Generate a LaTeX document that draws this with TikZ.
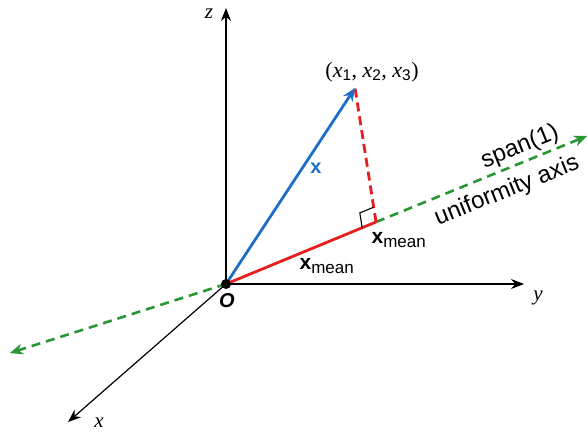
\documentclass[tikz,border=0pt]{standalone}
\usepackage{fontspec}
\setmainfont{Liberation Sans}
\newfontfamily\serifit{Liberation Serif}
\usetikzlibrary{arrows.meta,calc}
\definecolor{gblue}{RGB}{30,110,200}
\definecolor{gred}{RGB}{232,30,30}
\definecolor{ggreen}{RGB}{40,150,50}
\tikzset{
  axis/.style={line width=1.2pt, -{Stealth[length=13pt,width=10pt]}},
  vec/.style={line width=2.8pt},
  grn/.style={line width=2.6pt, draw=ggreen, dash pattern=on 9pt off 6pt, -{Stealth[length=13pt,width=11pt]}},
  lbl/.style={font=\fontsize{24}{26}\selectfont, inner sep=0pt},
  axl/.style={font=\fontsize{21}{23}\selectfont\serifit\itshape, inner sep=1pt},
}
\newcommand{\xmean}{\textbf{x}\textsubscript{\fontsize{17}{20}\selectfont mean}}
\begin{document}
\begin{tikzpicture}[x=1pt,y=-1pt]
\useasboundingbox (0,0) rectangle (588,432);
\coordinate (O) at (226,284);
\coordinate (zt) at (226,8);
\coordinate (yt) at (524,284);
\coordinate (xt) at (68,422);
\coordinate (P) at (355,88);
\coordinate (F) at (376,222);
\coordinate (gl) at (10,353);
\coordinate (gr) at (587,136);
% axes
\draw[axis] (O) -- (zt);
\draw[axis] (O) -- (yt);
\draw[axis] (O) -- (xt);
% green uniformity axis
\draw[grn] (O) -- (gl);
\draw[grn] (F) -- (gr);
% vectors
\draw[vec, draw=gred] (O) -- (F);
\draw[vec, draw=gred, dash pattern=on 9pt off 5pt] (F) -- (P);
\draw[vec, draw=gblue, -{Stealth[length=13pt,width=11pt]}] (O) -- (P);
% right angle mark
\coordinate (ra1) at ($(F)!15pt!(O)$);
\coordinate (ra2) at ($(F)!15pt!(P)$);
\coordinate (ra3) at ($(ra1)+(ra2)-(F)$);
\draw[line width=1.1pt] (ra1) -- (ra3) -- (ra2);
% origin dot
\fill (O) circle (5pt);
% labels
\node[axl] (zl) at (209,14) {z};
\node[axl] (yl) at (538,298) {y};
\node[axl] (xl) at (99,423) {x};
\node[font=\fontsize{20}{22}\selectfont\bfseries\itshape, inner sep=1pt] (Ol) at (227,301) {O};
\node[font=\fontsize{22}{24}\selectfont, inner sep=1pt] (Pl) at (372,72) {{\serifit(\itshape x}\textsubscript{1}{\serifit, \itshape x}\textsubscript{2}{\serifit, \itshape x}\textsubscript{3}{\serifit)}};
\node[text=gblue, font=\fontsize{20}{22}\selectfont\bfseries, inner sep=1pt] (xv) at (316,168) {x};
\node[font=\fontsize{21}{23}\selectfont, inner sep=1pt] (m1) at (327,266) {\xmean};
\node[font=\fontsize{21}{23}\selectfont, inner sep=1pt] (m2) at (399,240) {\xmean};
\node[lbl, rotate=22] (sp) at (520,147) {span(1)};
\node[lbl, rotate=22] (ua) at (507,191) {uniformity axis};
\end{tikzpicture}
\end{document}
